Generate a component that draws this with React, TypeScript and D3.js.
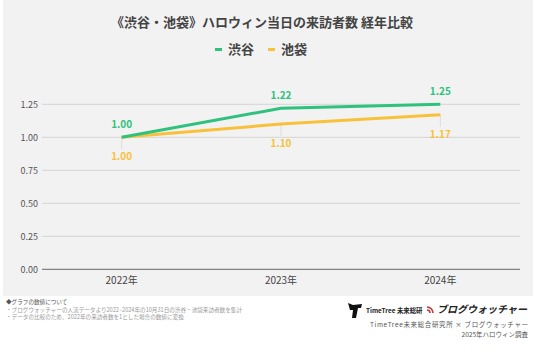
import React, { useEffect, useRef } from 'react';
import * as d3 from 'd3';

const years = ['2022年', '2023年', '2024年'];
const shibuya = [1.0, 1.22, 1.25];
const ikebukuro = [1.0, 1.1, 1.17];
const yTicks = [0, 0.25, 0.5, 0.75, 1.0, 1.25];
const seriesNames = ['渋谷', '池袋'];
const notes = [
  '◆グラフの数値について',
  '・ブログウォッチャーの人流データより2022~2024年の10月31日の渋谷・池袋来訪者数を集計',
  '・データの比較のため、2022年の来訪者数を1とした場合の数値に変換',
];

const GREEN = '#2fc17e';
const YELLOW = '#f8c13a';
const FONT = "'Noto Sans CJK JP', 'Noto Sans', sans-serif";

export default function App() {
  const svgRef = useRef<SVGSVGElement>(null);

  useEffect(() => {
    if (!svgRef.current) return;
    const width = 536;
    const height = 359;
    const margin = { left: 42, right: 16 };
    const innerWidth = width - margin.left - margin.right;

    const svg = d3.select(svgRef.current);
    svg.selectAll('*').remove();
    svg.attr('width', width).attr('height', height).style('font-family', FONT);

    svg.append('rect').attr('width', width).attr('height', height).attr('fill', '#fff');
    // chart panel
    svg.append('rect')
      .attr('x', 3).attr('y', 0).attr('width', 530).attr('height', 296)
      .attr('fill', '#f2f2f2');

    // title
    svg.append('text')
      .attr('x', 262).attr('y', 27)
      .attr('text-anchor', 'middle')
      .attr('font-size', 13).attr('font-weight', 'bold')
      .attr('fill', '#444')
      .text('《渋谷・池袋》ハロウィン当日の来訪者数 経年比較');

    // legend
    const legendX = [215, 268];
    [GREEN, YELLOW].forEach((c, i) => {
      svg.append('rect')
        .attr('x', legendX[i]).attr('y', 48).attr('width', 7).attr('height', 3)
        .attr('fill', c);
      svg.append('text')
        .attr('x', legendX[i] + 13).attr('y', 54)
        .attr('font-size', 13).attr('font-weight', 'bold')
        .attr('fill', '#444')
        .text(seriesNames[i]);
    });

    const x = d3.scalePoint<string>()
      .domain(years)
      .range([0, innerWidth])
      .padding(0.5);

    const y = d3.scaleLinear()
      .domain([0, 1.25])
      .range([269.3, 104.3]);

    const g = svg.append('g').attr('transform', `translate(${margin.left},0)`);

    // grid lines
    g.append('g')
      .selectAll('line')
      .data(yTicks)
      .join('line')
      .attr('x1', 0).attr('x2', innerWidth)
      .attr('y1', d => y(d)).attr('y2', d => y(d))
      .attr('stroke', d => (d === 0 ? '#666' : '#d4d4d4'))
      .attr('stroke-width', 1);

    // y labels
    g.append('g')
      .selectAll('text')
      .data(yTicks)
      .join('text')
      .attr('x', -4).attr('y', d => y(d) + 3.5)
      .attr('text-anchor', 'end')
      .attr('font-size', 9)
      .attr('fill', '#555')
      .text(d => d3.format('.2f')(d));

    // x labels
    g.append('g')
      .selectAll('text')
      .data(years)
      .join('text')
      .attr('x', d => x(d)!).attr('y', 284)
      .attr('text-anchor', 'middle')
      .attr('font-size', 10)
      .attr('fill', '#444')
      .text(d => d);

    // faint leader lines
    g.append('g')
      .selectAll('line')
      .data(years)
      .join('line')
      .attr('x1', d => x(d)!).attr('x2', d => x(d)!)
      .attr('y1', (d, i) => y(ikebukuro[i]))
      .attr('y2', (d, i) => y(ikebukuro[i]) + 12)
      .attr('stroke', '#ddd')
      .attr('stroke-width', 1);

    const line = d3.line<number>()
      .x((d, i) => x(years[i])!)
      .y(d => y(d));

    g.append('path')
      .datum(ikebukuro)
      .attr('fill', 'none')
      .attr('stroke', YELLOW)
      .attr('stroke-width', 3)
      .attr('d', line);

    g.append('path')
      .datum(shibuya)
      .attr('fill', 'none')
      .attr('stroke', GREEN)
      .attr('stroke-width', 3)
      .attr('d', line);

    // value labels
    g.append('g')
      .selectAll('text')
      .data(shibuya)
      .join('text')
      .attr('x', (d, i) => x(years[i])!)
      .attr('y', d => y(d) - 9)
      .attr('text-anchor', 'middle')
      .attr('font-size', 10).attr('font-weight', 'bold')
      .attr('fill', GREEN)
      .text(d => d3.format('.2f')(d));

    g.append('g')
      .selectAll('text')
      .data(ikebukuro)
      .join('text')
      .attr('x', (d, i) => x(years[i])!)
      .attr('y', d => y(d) + 23)
      .attr('text-anchor', 'middle')
      .attr('font-size', 10).attr('font-weight', 'bold')
      .attr('fill', YELLOW)
      .text(d => d3.format('.2f')(d));

    // footnotes
    svg.append('g')
      .selectAll('text')
      .data(notes)
      .join('text')
      .attr('x', 6).attr('y', (d, i) => 304 + i * 7.5)
      .attr('font-size', 5.6)
      .attr('fill', (d, i) => (i === 0 ? '#555' : '#999'))
      .text(d => d);

    // logos
    svg.append('path')
      .attr('d', 'M348,303 L353,305 L362,304 L361,308 L358,308 L356,318 L352,318 L353,310 L350,310 Z')
      .attr('fill', '#111');
    svg.append('text')
      .attr('x', 366).attr('y', 313)
      .attr('font-size', 6.4).attr('font-weight', 'bold')
      .attr('fill', '#222')
      .text('TimeTree 未来総研');
    svg.append('path')
      .attr('d', 'M427,307 A6,6 0 0 1 433,313 M427,310 A3,3 0 0 1 430,313')
      .attr('fill', 'none')
      .attr('stroke', '#c8343a')
      .attr('stroke-width', 1.6);
    svg.append('text')
      .attr('x', 437).attr('y', 313)
      .attr('font-size', 10).attr('font-weight', 'bold')
      .attr('font-style', 'italic')
      .attr('fill', '#222')
      .text('ブログウォッチャー');
    svg.append('text')
      .attr('x', 528).attr('y', 327)
      .attr('text-anchor', 'end')
      .attr('font-size', 6.5)
      .attr('fill', '#555')
      .attr('textLength', 158)
      .text('TimeTree未来総合研究所 × ブログウォッチャー');
    svg.append('text')
      .attr('x', 528).attr('y', 336.5)
      .attr('text-anchor', 'end')
      .attr('font-size', 6.5)
      .attr('fill', '#555')
      .text('2025年ハロウィン調査');
  }, []);

  return (
    <div style={{ position: 'absolute', left: 0, top: 0 }}>
      <svg ref={svgRef} style={{ display: 'block' }} />
    </div>
  );
}
